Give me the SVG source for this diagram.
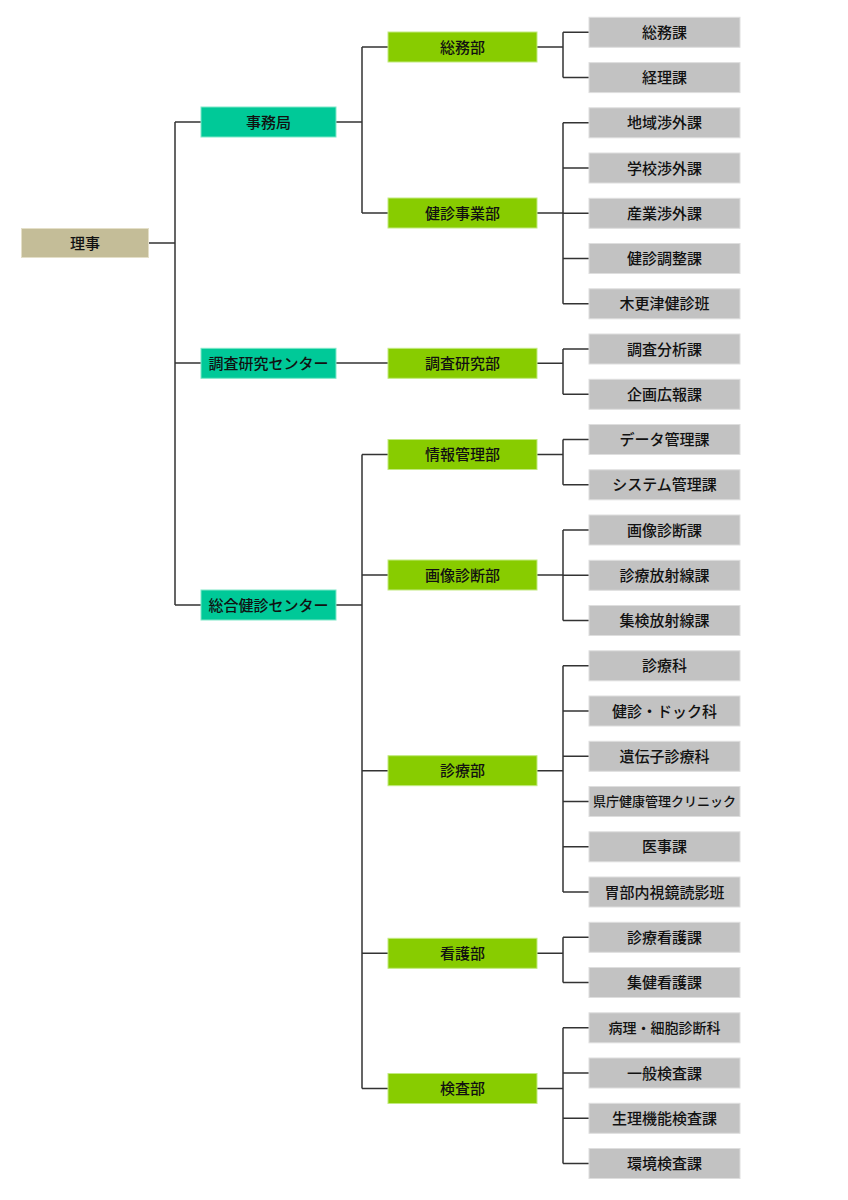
<svg xmlns="http://www.w3.org/2000/svg" width="848" height="1200" viewBox="0 0 848 1200">
<style>
text{font-family:"Noto Sans CJK JP","Noto Sans",sans-serif;font-size:15px;font-weight:500;fill:#111;text-anchor:middle;dominant-baseline:central;transform:translateY(-1px)}
.r{fill:#c4bd98;stroke:#e4dfc8;stroke-width:1}
.l1{fill:#00c998;stroke:#7ee8c8;stroke-width:1}
.l2{fill:#88cc00;stroke:#c2ea80;stroke-width:1}
.l3{fill:#c2c2c2;stroke:#dedede;stroke-width:1}
.c path{fill:none;stroke:#333;stroke-width:1.5}
</style>
<rect width="848" height="1200" fill="#fff"/>
<g class="c" id="connectors">
<path d="M148 243H175M175 122V605M175 122H201M175 363H201M175 605H201"/>
<path d="M336 122H362M362 47V213M362 47H388M362 213H388"/>
<path d="M336 363H388"/>
<path d="M336 605H362M362 454.5V1088.5M362 454.5H388M362 575H388M362 770.7H388M362 953.3H388M362 1088.5H388"/>
<path d="M537 47H563M563 32.3V77.6M563 32.3H589M563 77.6H589"/>
<path d="M537 213H563M563 122.8V303.8M563 122.8H589M563 168H589M563 213.3H589M563 258.5H589M563 303.8H589"/>
<path d="M537 363.3H563M563 349V394.3M563 349H589M563 394.3H589"/>
<path d="M537 454.5H563M563 439.5V484.8M563 439.5H589M563 484.8H589"/>
<path d="M537 575H563M563 530V620.5M563 530H589M563 575.3H589M563 620.5H589"/>
<path d="M537 770.7H563M563 665.8V892M563 665.8H589M563 711H589M563 756.3H589M563 801.5H589M563 846.8H589M563 892H589"/>
<path d="M537 953.3H563M563 937.3V982.5M563 937.3H589M563 982.5H589"/>
<path d="M537 1088.5H563M563 1027.8V1163.5M563 1027.8H589M563 1073H589M563 1118.3H589M563 1163.5H589"/>
</g>
<g id="n-riji"><rect class="r" x="21.5" y="228.5" width="127" height="29"/><text x="85" y="243">理事</text></g>
<g id="n-jimukyoku"><rect class="l1" x="201" y="107" width="135" height="30"/><text x="268.5" y="122">事務局</text></g>
<g id="n-chosacenter"><rect class="l1" x="201" y="348.3" width="135" height="30"/><text x="268.5" y="363.3">調査研究センター</text></g>
<g id="n-sogocenter"><rect class="l1" x="201" y="590" width="135" height="30"/><text x="268.5" y="605">総合健診センター</text></g>
<g id="n-somubu"><rect class="l2" x="388" y="32" width="149" height="30"/><text x="462.5" y="47">総務部</text></g>
<g id="n-kenshinjigyobu"><rect class="l2" x="388" y="198" width="149" height="30"/><text x="462.5" y="213">健診事業部</text></g>
<g id="n-chosabu"><rect class="l2" x="388" y="348.3" width="149" height="30"/><text x="462.5" y="363.3">調査研究部</text></g>
<g id="n-johobu"><rect class="l2" x="388" y="439.5" width="149" height="30"/><text x="462.5" y="454.5">情報管理部</text></g>
<g id="n-gazobu"><rect class="l2" x="388" y="560" width="149" height="30"/><text x="462.5" y="575">画像診断部</text></g>
<g id="n-shinryobu"><rect class="l2" x="388" y="755.7" width="149" height="30"/><text x="462.5" y="770.7">診療部</text></g>
<g id="n-kangobu"><rect class="l2" x="388" y="938.3" width="149" height="30"/><text x="462.5" y="953.3">看護部</text></g>
<g id="n-kensabu"><rect class="l2" x="388" y="1073.5" width="149" height="30"/><text x="462.5" y="1088.5">検査部</text></g>
<g id="n-somuka"><rect class="l3" x="589" y="17.3" width="151" height="30"/><text x="664.5" y="32.3">総務課</text></g>
<g id="n-keirika"><rect class="l3" x="589" y="62.6" width="151" height="30"/><text x="664.5" y="77.6">経理課</text></g>
<g id="n-chiiki"><rect class="l3" x="589" y="107.8" width="151" height="30"/><text x="664.5" y="122.8">地域渉外課</text></g>
<g id="n-gakko"><rect class="l3" x="589" y="153" width="151" height="30"/><text x="664.5" y="168">学校渉外課</text></g>
<g id="n-sangyo"><rect class="l3" x="589" y="198.3" width="151" height="30"/><text x="664.5" y="213.3">産業渉外課</text></g>
<g id="n-chosei"><rect class="l3" x="589" y="243.5" width="151" height="30"/><text x="664.5" y="258.5">健診調整課</text></g>
<g id="n-kisarazu"><rect class="l3" x="589" y="288.8" width="151" height="30"/><text x="664.5" y="303.8">木更津健診班</text></g>
<g id="n-bunseki"><rect class="l3" x="589" y="334" width="151" height="30"/><text x="664.5" y="349">調査分析課</text></g>
<g id="n-kikaku"><rect class="l3" x="589" y="379.3" width="151" height="30"/><text x="664.5" y="394.3">企画広報課</text></g>
<g id="n-data"><rect class="l3" x="589" y="424.5" width="151" height="30"/><text x="664.5" y="439.5">データ管理課</text></g>
<g id="n-system"><rect class="l3" x="589" y="469.8" width="151" height="30"/><text x="664.5" y="484.8">システム管理課</text></g>
<g id="n-gazoka"><rect class="l3" x="589" y="515" width="151" height="30"/><text x="664.5" y="530">画像診断課</text></g>
<g id="n-shinryohosha"><rect class="l3" x="589" y="560.3" width="151" height="30"/><text x="664.5" y="575.3">診療放射線課</text></g>
<g id="n-shukenhosha"><rect class="l3" x="589" y="605.5" width="151" height="30"/><text x="664.5" y="620.5">集検放射線課</text></g>
<g id="n-shinryoka"><rect class="l3" x="589" y="650.8" width="151" height="30"/><text x="664.5" y="665.8">診療科</text></g>
<g id="n-dock"><rect class="l3" x="589" y="696" width="151" height="30"/><text x="664.5" y="711">健診・ドック科</text></g>
<g id="n-idenshi"><rect class="l3" x="589" y="741.3" width="151" height="30"/><text x="664.5" y="756.3">遺伝子診療科</text></g>
<g id="n-kencho"><rect class="l3" x="589" y="786.5" width="151" height="30"/><text x="664.5" y="801.5" style="font-size:13px">県庁健康管理クリニック</text></g>
<g id="n-iji"><rect class="l3" x="589" y="831.8" width="151" height="30"/><text x="664.5" y="846.8">医事課</text></g>
<g id="n-ibu"><rect class="l3" x="589" y="877" width="151" height="30"/><text x="664.5" y="892">胃部内視鏡読影班</text></g>
<g id="n-shinryokango"><rect class="l3" x="589" y="922.3" width="151" height="30"/><text x="664.5" y="937.3">診療看護課</text></g>
<g id="n-shukenkango"><rect class="l3" x="589" y="967.5" width="151" height="30"/><text x="664.5" y="982.5">集健看護課</text></g>
<g id="n-byori"><rect class="l3" x="589" y="1012.8" width="151" height="30"/><text x="664.5" y="1027.8" style="font-size:14px">病理・細胞診断科</text></g>
<g id="n-ippan"><rect class="l3" x="589" y="1058" width="151" height="30"/><text x="664.5" y="1073">一般検査課</text></g>
<g id="n-seiri"><rect class="l3" x="589" y="1103.3" width="151" height="30"/><text x="664.5" y="1118.3">生理機能検査課</text></g>
<g id="n-kankyo"><rect class="l3" x="589" y="1148.5" width="151" height="30"/><text x="664.5" y="1163.5">環境検査課</text></g>
</svg>
